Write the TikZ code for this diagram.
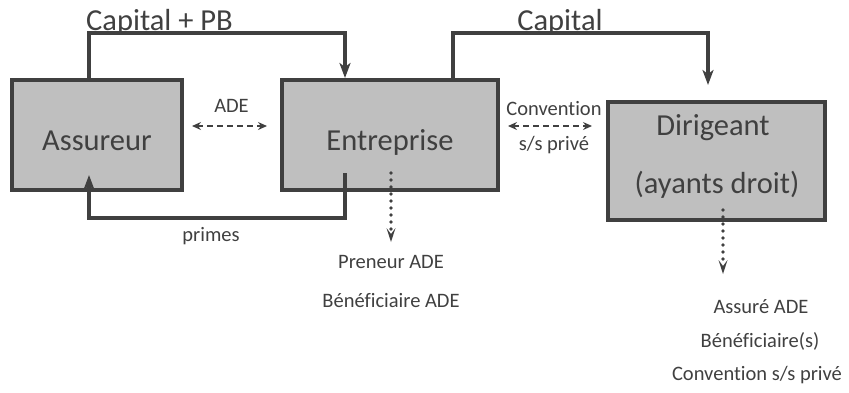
\documentclass[tikz,border=0pt]{standalone}
\usepackage{fontspec}
\setmainfont{Carlito}[Ligatures={NoCommon,NoContextual}]
\usetikzlibrary{arrows.meta}
\definecolor{ink}{HTML}{404040}
\definecolor{boxfill}{HTML}{BFBFBF}
\tikzset{
  party/.style={draw=ink, fill=boxfill, line width=4pt, minimum width=#1, inner sep=0pt},
  bigtxt/.style={text=ink, anchor=base, inner sep=0pt, font=\fontsize{30.5}{36}\selectfont},
  smalltxt/.style={text=ink, anchor=base, inner sep=0pt, font=\fontsize{20.5}{24}\selectfont},
  flow/.style={draw=ink, line width=3.2pt, -{Stealth[length=15pt,width=11pt,inset=4pt]}},
  link/.style={draw=ink, line width=1.5pt, dash pattern=on 6pt off 4pt,
    {Stealth[length=9pt,width=8pt,inset=3pt]}-{Stealth[length=9pt,width=8pt,inset=3pt]}},
  role/.style={draw=ink, line width=3.8pt, line cap=round, dash pattern=on 0pt off 7pt,
    -{Stealth[length=14pt,width=9pt,inset=6pt,line width=0pt,line cap=butt]}}
}
\begin{document}
\begin{tikzpicture}[x=1pt,y=-1pt]
\useasboundingbox (0,0) rectangle (849,392);

% the three parties
\node[party=170pt, minimum height=110pt] (ass) at (97,135) {};
\node[party=216pt, minimum height=110pt] (ent) at (390,135) {};
\node[party=217pt, minimum height=118pt] (dir) at (716.5,161) {};

\node[bigtxt] (tass) at (97,150) {Assureur};
\node[bigtxt] (tent) at (390,150) {Entreprise};
\node[bigtxt] (tdir1) at (713,135) {Dirigeant};
\node[bigtxt] (tdir2) at (717,193) {(ayants droit)};

% capital + PB paid by the insurer to the company
\coordinate (pbL) at (89,33);
\coordinate (pbR) at (345,33);
\draw[flow] (pbL |- ass.north) -- (pbL) -- (pbR) -- (pbR |- ent.north);
\node[bigtxt] (lpb) at (159.5,30) {Capital + PB};

% capital paid by the company to the director
\coordinate (capL) at (453,33);
\coordinate (capR) at (708,33);
\coordinate (capE) at (708,85);
\draw[flow] (capL |- ent.north) -- (capL) -- (capR) -- (capE);
\node[bigtxt] (lcap) at (560,30) {Capital};

% premiums paid by the company to the insurer
\coordinate (prS) at (345,173);
\coordinate (prB) at (345,218);
\coordinate (prL) at (89,218);
\coordinate (prE) at (89,175);
\draw[flow] (prS) -- (prB) -- (prL) -- (prE);
\node[smalltxt] (lprimes) at (211,241) {primes};

% contractual links
\coordinate (adeL) at (192,126);
\coordinate (adeR) at (267,126);
\draw[link] (adeL) -- (adeR);
\node[smalltxt] (lade) at (231.5,112) {ADE};

\coordinate (cvL) at (508,126);
\coordinate (cvR) at (592,126);
\draw[link] (cvL) -- (cvR);
\node[smalltxt] (lcv1) at (554,115) {Convention};
\node[smalltxt] (lcv2) at (554,150) {s/s privé};

% roles of each party
\coordinate (entS) at (391,173);
\coordinate (entE) at (391,242);
\draw[role] (entS) -- (entE);
\node[smalltxt] (r1) at (391,268) {Preneur ADE};
\node[smalltxt] (r2) at (391,307) {Bénéficiaire ADE};

\coordinate (dirS) at (723,210);
\coordinate (dirE) at (723,274);
\draw[role] (dirS) -- (dirE);
\node[smalltxt] (r3) at (761,313) {Assuré ADE};
\node[smalltxt] (r4) at (760,347) {Bénéficiaire(s)};
\node[smalltxt] (r5) at (757,380) {Convention s/s privé};
\end{tikzpicture}
\end{document}
